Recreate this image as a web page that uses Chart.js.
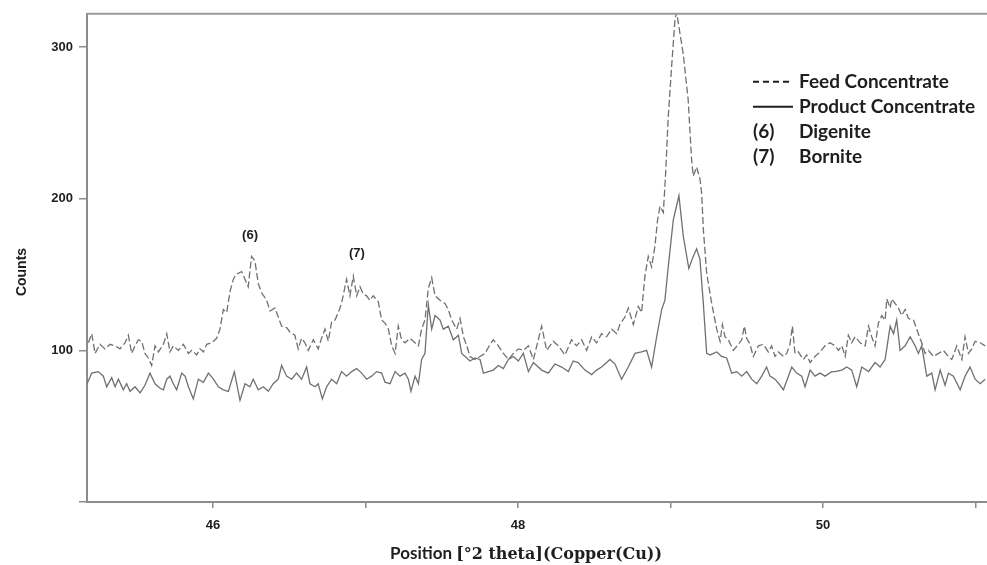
<!DOCTYPE html>
<html>
<head>
<meta charset="utf-8">
<title>XRD - Feed vs Product Concentrate</title>
<script src="https://cdn.jsdelivr.net/npm/chart.js@4.4.1/dist/chart.umd.min.js"></script>
<style>
    html, body { margin: 0; padding: 0; background: #fff; }
    #xrd { display: block; }
</style>
</head>
<body>
<canvas id="xrd" width="987" height="565"></canvas>
<script>
// ---------------- Data ---------------- //
// Feed concentrate (dashed)
const feedTheta = [
    45.183, 45.205, 45.227, 45.259, 45.292, 45.325, 45.358, 45.390, 45.423, 45.445,
    45.467, 45.489, 45.511, 45.533, 45.554, 45.576, 45.598, 45.620, 45.642, 45.675,
    45.697, 45.718, 45.740, 45.773, 45.806, 45.839, 45.861, 45.893, 45.915, 45.937,
    45.959, 45.992, 46.024, 46.046, 46.068, 46.090, 46.112, 46.134, 46.150, 46.188,
    46.231, 46.253, 46.275, 46.297, 46.319, 46.352, 46.374, 46.406, 46.428, 46.450,
    46.483, 46.505, 46.537, 46.559, 46.581, 46.603, 46.625, 46.658, 46.690, 46.712,
    46.734, 46.756, 46.778, 46.800, 46.822, 46.843, 46.876, 46.898, 46.920, 46.942,
    46.964, 46.986, 47.007, 47.029, 47.051, 47.084, 47.106, 47.128, 47.150, 47.172,
    47.194, 47.215, 47.237, 47.259, 47.292, 47.325, 47.347, 47.368, 47.390, 47.412,
    47.434, 47.456, 47.489, 47.521, 47.543, 47.565, 47.598, 47.620, 47.642, 47.664,
    47.685, 47.718, 47.751, 47.784, 47.817, 47.838, 47.871, 47.904, 47.937, 47.970,
    48.002, 48.035, 48.068, 48.101, 48.155, 48.188, 48.231, 48.264, 48.308, 48.351,
    48.384, 48.417, 48.450, 48.483, 48.515, 48.548, 48.581, 48.614, 48.647, 48.668,
    48.701, 48.723, 48.756, 48.789, 48.810, 48.832, 48.854, 48.876, 48.898, 48.915,
    48.931, 48.953, 48.968, 48.985, 49.007, 49.029, 49.040, 49.062, 49.084, 49.116,
    49.138, 49.149, 49.171, 49.193, 49.204, 49.215, 49.237, 49.270, 49.303, 49.325,
    49.340, 49.357, 49.379, 49.412, 49.445, 49.467, 49.484, 49.499, 49.521, 49.543,
    49.576, 49.609, 49.641, 49.663, 49.685, 49.707, 49.740, 49.762, 49.783, 49.799,
    49.816, 49.838, 49.871, 49.893, 49.915, 49.947, 49.980, 50.013, 50.046, 50.079,
    50.101, 50.123, 50.145, 50.166, 50.188, 50.210, 50.243, 50.276, 50.298, 50.319,
    50.341, 50.363, 50.385, 50.407, 50.418, 50.440, 50.451, 50.472, 50.494, 50.516,
    50.538, 50.560, 50.593, 50.625, 50.647, 50.669, 50.691, 50.724, 50.757, 50.789,
    50.822, 50.844, 50.877, 50.910, 50.931, 50.953, 50.975, 50.997, 51.030, 51.063
];
const feedCounts = [
    105, 111, 98, 104, 101, 104, 103, 101, 105, 110,
    98, 103, 107, 106, 98, 95, 90, 103, 99, 104,
    111, 99, 103, 100, 104, 98, 100, 97, 101, 99,
    104, 105, 108, 114, 127, 125, 139, 147, 150, 152,
    142, 162, 159, 144, 138, 133, 126, 128, 122, 116,
    115, 112, 110, 101, 108, 105, 100, 107, 101, 108,
    114, 106, 119, 120, 125, 131, 147, 136, 149, 136,
    142, 137, 136, 133, 136, 132, 120, 118, 114, 103,
    98, 116, 107, 105, 108, 105, 103, 114, 120, 141,
    148, 136, 133, 131, 127, 120, 114, 121, 109, 103,
    96, 94, 96, 98, 104, 107, 103, 98, 94, 98,
    101, 100, 103, 94, 116, 100, 106, 103, 97, 107,
    103, 107, 100, 109, 105, 111, 109, 114, 111, 117,
    122, 128, 117, 129, 125, 149, 162, 155, 169, 186,
    195, 191, 217, 254, 287, 318, 323, 309, 295, 265,
    226, 215, 221, 213, 204, 180, 151, 131, 114, 106,
    117, 109, 107, 100, 104, 107, 116, 108, 104, 96,
    103, 104, 99, 103, 96, 99, 96, 98, 104, 116,
    98, 99, 94, 97, 92, 96, 99, 103, 105, 103,
    100, 103, 96, 110, 105, 109, 105, 103, 116, 109,
    103, 118, 123, 120, 134, 128, 134, 131, 128, 123,
    127, 121, 120, 111, 105, 98, 100, 96, 98, 100,
    96, 94, 103, 94, 109, 98, 101, 106, 105, 103
];

// Product concentrate (solid)
const productTheta = [
    45.174, 45.205, 45.248, 45.281, 45.303, 45.336, 45.358, 45.380, 45.412, 45.434,
    45.456, 45.489, 45.522, 45.554, 45.587, 45.620, 45.653, 45.675, 45.697, 45.718,
    45.740, 45.762, 45.795, 45.817, 45.839, 45.871, 45.904, 45.937, 45.970, 46.003,
    46.035, 46.068, 46.101, 46.140, 46.177, 46.210, 46.242, 46.264, 46.297, 46.330,
    46.363, 46.395, 46.428, 46.450, 46.483, 46.516, 46.548, 46.581, 46.614, 46.636,
    46.669, 46.690, 46.717, 46.745, 46.778, 46.811, 46.843, 46.876, 46.909, 46.942,
    46.975, 47.007, 47.040, 47.073, 47.106, 47.128, 47.161, 47.194, 47.226, 47.259,
    47.281, 47.298, 47.325, 47.347, 47.368, 47.390, 47.412, 47.434, 47.456, 47.489,
    47.510, 47.543, 47.576, 47.609, 47.631, 47.653, 47.685, 47.718, 47.751, 47.773,
    47.806, 47.838, 47.871, 47.904, 47.937, 47.970, 48.002, 48.035, 48.068, 48.101,
    48.155, 48.198, 48.242, 48.286, 48.330, 48.362, 48.395, 48.439, 48.483, 48.515,
    48.548, 48.603, 48.636, 48.679, 48.723, 48.767, 48.810, 48.843, 48.876, 48.909,
    48.942, 48.963, 48.985, 49.018, 49.055, 49.084, 49.120, 49.145, 49.171, 49.193,
    49.215, 49.237, 49.259, 49.303, 49.335, 49.368, 49.401, 49.434, 49.467, 49.499,
    49.532, 49.565, 49.598, 49.630, 49.652, 49.685, 49.718, 49.740, 49.773, 49.795,
    49.827, 49.860, 49.882, 49.915, 49.947, 49.980, 50.013, 50.057, 50.079, 50.123,
    50.156, 50.188, 50.221, 50.254, 50.298, 50.341, 50.374, 50.407, 50.440, 50.462,
    50.483, 50.505, 50.538, 50.571, 50.604, 50.625, 50.647, 50.680, 50.713, 50.735,
    50.768, 50.800, 50.822, 50.855, 50.899, 50.931, 50.964, 50.997, 51.030, 51.063
];
const productCounts = [
    78, 85, 86, 83, 76, 82, 76, 81, 74, 78,
    73, 76, 72, 77, 85, 78, 75, 74, 81, 83,
    78, 74, 85, 83, 76, 68, 81, 79, 85, 81,
    76, 74, 73, 86, 67, 78, 76, 81, 74, 76,
    73, 78, 81, 90, 83, 81, 85, 81, 89, 78,
    76, 78, 68, 76, 81, 78, 86, 83, 86, 88,
    85, 81, 83, 86, 85, 79, 78, 86, 83, 85,
    81, 73, 83, 78, 94, 98, 130, 114, 123, 120,
    114, 116, 107, 110, 98, 96, 93, 95, 94, 85,
    86, 87, 90, 88, 94, 96, 93, 98, 86, 92,
    87, 85, 91, 89, 86, 93, 92, 87, 84, 87,
    89, 94, 91, 81, 89, 98, 99, 100, 89, 109,
    127, 133, 155, 186, 202, 175, 154, 161, 167, 160,
    131, 98, 97, 99, 96, 95, 85, 86, 83, 86,
    81, 78, 83, 89, 83, 81, 77, 74, 83, 89,
    85, 83, 76, 87, 83, 85, 83, 86, 86, 87,
    89, 87, 76, 89, 86, 92, 89, 94, 116, 111,
    120, 100, 103, 109, 103, 98, 103, 83, 85, 74,
    87, 77, 85, 83, 74, 83, 89, 81, 78, 81
];

// Axes
const xTickValues = [46, 47, 48, 49, 50, 51];
const yTickValues = [0, 100, 200, 300];

// Peak markers
const peakLabels = ['(6)', '(7)'];
const peakTheta = [46.243, 46.944];
const peakCounts = [176, 164];

// Legend rows
const legendKeys = ['dash', 'solid', '(6)', '(7)'];
const legendTexts = ['Feed Concentrate', 'Product Concentrate', 'Digenite', 'Bornite'];
//------------------------------------------------------------//

const lineGray = '#707070';
const axisGray = '#8c8c8c';
const textDark = '#1e1e1e';

// Text, legend and top frame drawn on the canvas
const annotations = {
    id: 'annotations',
    afterDraw(chart) {
        const ctx = chart.ctx;
        const area = chart.chartArea;
        const xs = chart.scales.x;
        const ys = chart.scales.y;
        ctx.save();

        // top frame line
        ctx.strokeStyle = '#9a9a9a';
        ctx.lineWidth = 2;
        ctx.beginPath();
        ctx.moveTo(area.left, area.top);
        ctx.lineTo(area.right, area.top);
        ctx.stroke();

        // (6) and (7) over the peaks
        ctx.fillStyle = textDark;
        ctx.font = 'bold 13px "Liberation Sans"';
        ctx.textAlign = 'center';
        ctx.textBaseline = 'middle';
        peakLabels.forEach(function (lbl, i) {
            ctx.fillText(lbl, xs.getPixelForValue(peakTheta[i]), ys.getPixelForValue(peakCounts[i]));
        });

        // y title
        ctx.save();
        ctx.translate(22, 272);
        ctx.rotate(-Math.PI / 2);
        ctx.font = 'bold 14px "Liberation Sans"';
        ctx.fillText('Counts', 0, 0);
        ctx.restore();

        // x title: sans part + serif part
        const partA = 'Position ';
        const partB = '[\u00B02 theta](Copper(Cu))';
        const fontA = 'bold 17px Lato';
        const fontB = 'bold 16px "DejaVu Serif"';
        ctx.font = fontA;
        const wA = ctx.measureText(partA).width;
        ctx.font = fontB;
        const wB = ctx.measureText(partB).width;
        const startX = 526 - (wA + wB) / 2;
        ctx.textAlign = 'left';
        ctx.textBaseline = 'alphabetic';
        ctx.font = fontA;
        ctx.fillText(partA, startX, 559);
        ctx.font = fontB;
        ctx.fillText(partB, startX + wA, 559);

        // legend
        const lx = area.right - 234;
        const tx = area.right - 188;
        ctx.font = 'bold 19px Lato';
        ctx.textBaseline = 'middle';
        legendKeys.forEach(function (key, i) {
            const y = area.top + 68 + i * 25;
            ctx.strokeStyle = textDark;
            if (key === 'dash' || key === 'solid') {
                ctx.lineWidth = 2;
                ctx.setLineDash(key === 'dash' ? [6, 4] : []);
                ctx.beginPath();
                ctx.moveTo(lx, y);
                ctx.lineTo(lx + 40, y);
                ctx.stroke();
                ctx.setLineDash([]);
            } else {
                ctx.fillText(key, lx, y);
            }
            ctx.fillText(legendTexts[i], tx, y);
        });

        ctx.restore();
    }
};

const xrdCanvas = document.getElementById('xrd');

new Chart(xrdCanvas, {
    type: 'line',
    data: {
        datasets: [{
            label: 'Feed Concentrate',
            data: feedTheta.map((t, i) => ({ x: t, y: feedCounts[i] })),
            borderColor: lineGray,
            borderWidth: 1.3,
            borderDash: [7, 3],
            pointRadius: 0,
            tension: 0,
        }, {
            label: 'Product Concentrate',
            data: productTheta.map((t, i) => ({ x: t, y: productCounts[i] })),
            borderColor: lineGray,
            borderWidth: 1.3,
            pointRadius: 0,
            tension: 0,
        }],
    },
    options: {
        responsive: false,
        animation: false,
        layout: {
            padding: { top: 13, left: 0, right: 0, bottom: 0 }
        },
        plugins: {
            legend: { display: false },
            tooltip: { enabled: false }
        },
        scales: {
            x: {
                type: 'linear',
                min: 45.174,
                max: 51.075,
                afterBuildTicks: (scale) => { scale.ticks = xTickValues.map(v => ({ value: v })); },
                afterFit: (scale) => { scale.height = 63; },
                grid: { drawOnChartArea: false, tickLength: 6, color: axisGray, lineWidth: 1.5 },
                border: { color: axisGray, width: 2 },
                ticks: {
                    padding: 10,
                    color: textDark,
                    font: { family: 'Liberation Sans', weight: 'bold', size: 13 },
                    callback: (v) => (v % 2 === 0 ? v : ''),
                    maxRotation: 0
                }
            },
            y: {
                min: 0,
                max: 322,
                afterBuildTicks: (scale) => { scale.ticks = yTickValues.map(v => ({ value: v })); },
                afterFit: (scale) => { scale.width = 87; },
                grid: { drawOnChartArea: false, tickLength: 8, color: axisGray, lineWidth: 1.5 },
                border: { color: axisGray, width: 2 },
                ticks: {
                    padding: 6,
                    color: textDark,
                    font: { family: 'Liberation Sans', weight: 'bold', size: 13 },
                    callback: (v) => (v === 0 ? '' : v)
                }
            }
        }
    },
    plugins: [annotations]
});
</script>
</body>
</html>
